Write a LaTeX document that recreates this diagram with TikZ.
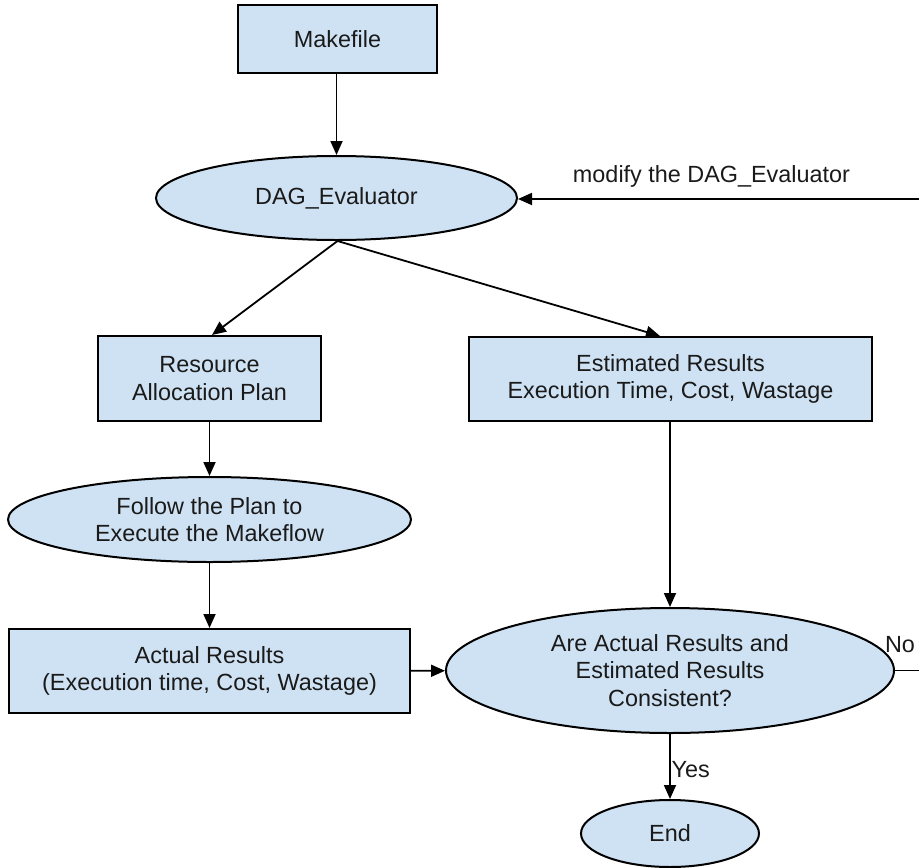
\documentclass[tikz,border=0pt]{standalone}
\usepackage{fontspec}
\setmainfont{Liberation Sans}
\usetikzlibrary{shapes.geometric,arrows.meta}
\definecolor{boxfill}{HTML}{CFE2F3}
\definecolor{ink}{HTML}{1A1A1A}
\begin{document}
\begin{tikzpicture}[x=1pt,y=-1pt,
  every node/.style={font=\fontsize{23.4}{27.7}\selectfont, text=ink},
  procbox/.style={draw=black, line width=2pt, fill=boxfill, rectangle,
    inner sep=0pt, align=center},
  oval/.style={draw=black, line width=2pt, fill=boxfill, ellipse,
    inner sep=0pt, align=center},
  flow/.style={draw=black, line width=1.8pt,
    -{Triangle[length=14pt,width=12pt]}},
  plain/.style={draw=black, line width=1.8pt}]
\useasboundingbox (0,0) rectangle (919,868);

% process boxes and decisions
\node[procbox, minimum width=199pt, minimum height=68pt] (make) at (337.5,39) {Makefile};
\node[oval, minimum width=361pt, minimum height=84pt] (dag) at (336.5,198) {DAG\_Evaluator};
\node[procbox, minimum width=223pt, minimum height=85pt] (res) at (209.5,378.5) {Resource\\Allocation Plan};
\node[procbox, minimum width=403pt, minimum height=84pt] (est) at (670.5,379) {Estimated Results\\Execution Time, Cost, Wastage};
\node[oval, minimum width=403pt, minimum height=85pt] (follow) at (209.5,519.5) {Follow the Plan to\\Execute the Makeflow};
\node[procbox, minimum width=401pt, minimum height=84pt] (act) at (209.5,671) {Actual Results\\(Execution time, Cost, Wastage)};
\node[oval, minimum width=448pt, minimum height=125pt] (cons) at (670,670.5) {Are Actual Results and\\Estimated Results\\Consistent?};
\node[oval, minimum width=178pt, minimum height=67pt] (end) at (670,833.5) {End};

% loose ends of the feedback loop
\coordinate (loopin) at (919,199);
\coordinate (loopout) at (919,670.5);

% connectors
\draw[flow] (make.south -| dag.north) -- (dag.north);
\draw[flow] (loopin) -- (loopin -| dag.east);
\node (modlbl) at (711.5,176) {modify the DAG\_Evaluator};
\draw[flow] ([xshift=1pt]dag.south) -- ([xshift=2.5pt]res.north);
\draw[flow] ([xshift=1pt]dag.south) -- ([xshift=-10.5pt]est.north);
\draw[flow] (res) -- (follow);
\draw[flow] (follow) -- (act);
\draw[flow] (act) -- (cons);
\draw[flow] (est.south -| cons.north) -- (cons.north);
\draw[plain] (cons.east) -- (loopout);
\node (nolbl) at (900,645) {No};
\draw[flow] (cons) -- (end);
\node[anchor=west] (yeslbl) at (668,770) {Yes};
\end{tikzpicture}
\end{document}
